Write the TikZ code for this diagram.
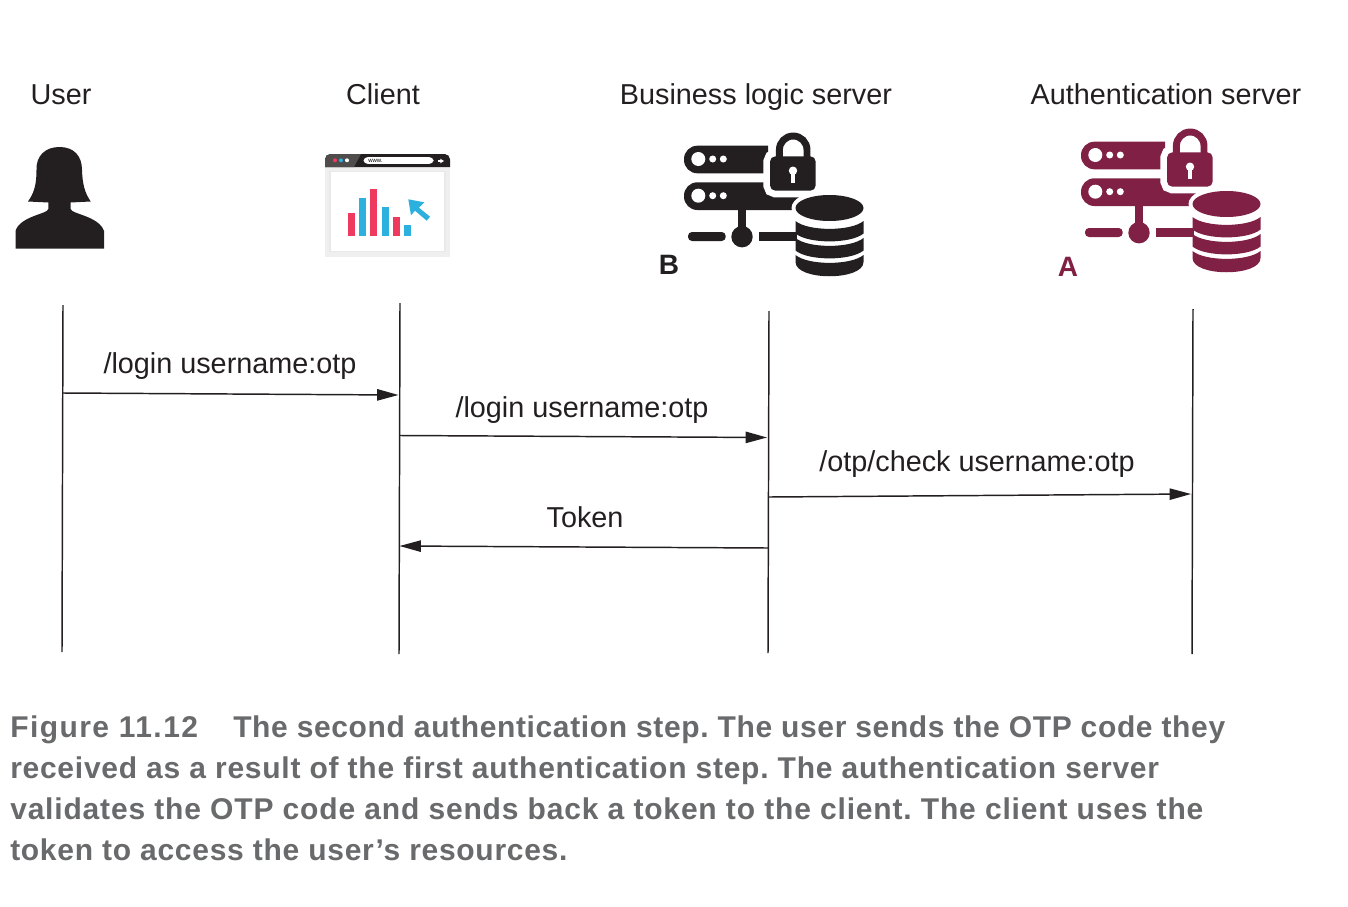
\documentclass[tikz,border=0pt]{standalone}
\usepackage{fontspec}
\setmainfont{Liberation Sans}
\newfontfamily\capfont{Liberation Sans}
\usetikzlibrary{arrows.meta}

\definecolor{authred}{HTML}{7F2044}
\definecolor{iconblack}{HTML}{231F20}
\definecolor{capgrey}{HTML}{696A6C}
\definecolor{barred}{HTML}{EE3A5E}
\definecolor{barblue}{HTML}{2CB0DE}

\tikzset{
  label/.style={font=\fontsize{21.6}{25}\selectfont,text=iconblack,inner sep=0pt,anchor=base},
  caption/.style={font=\capfont\bfseries\addfontfeature{LetterSpace=#1}\fontsize{22.5}{26}\selectfont\frenchspacing,text=capgrey,inner sep=0pt,anchor=base west},
  mark letter/.style={font=\bfseries\fontsize{21}{25}\selectfont,inner sep=0pt},
  lifeline/.style={line width=1.1pt,iconblack},
  message/.style={line width=1.1pt,iconblack,-{Triangle[length=16pt,width=8.5pt]}},
  pics/servericon/.style={code={
    % two racks
    \fill[#1] (84,13.7) [rounded corners=10pt] -- (0,13.7) -- (0,41.3) [sharp corners] -- (84,41.3) -- cycle;
    \fill[#1] (125,50.3) [rounded corners=10pt] -- (0,50.3) -- (0,78) [sharp corners] -- (125,78) -- cycle;
    \foreach \dy in {27,63.7} {
      \fill[white] (14.3,\dy) circle[radius=7];
      \fill[white] (28.7,\dy) circle[radius=3.5];
      \fill[white] (39.3,\dy) circle[radius=3.5];
    }
    % network
    \fill[#1] (54,70) rectangle (62,100);
    \fill[#1] (58,104.7) circle[radius=10.7];
    \fill[#1,rounded corners=3pt] (4,100) rectangle (41.7,109);
    \fill[#1] (75,100) rectangle (113,109);
    % lock
    \draw[white,line width=10pt,rounded corners=4pt] (86,24.3) rectangle (131.7,58.7);
    \fill[white] (86,24.3) rectangle (131.7,58.7);
    \draw[#1,line width=5.2pt] (95.4,28) -- (95.4,17.8) arc[start angle=180,end angle=360,radius=13.8] -- (123,28);
    \fill[#1,rounded corners=4pt] (86,24.3) rectangle (131.7,58.7);
    \fill[white] (109,38.7) circle[radius=4.2];
    \fill[white] (107.2,38.7) rectangle (110.8,51);
    % database
    \fill[white] (145.5,76) ellipse[x radius=38,y radius=18];
    \fill[#1] (145.5,76) ellipse[x radius=34,y radius=13];
    \foreach \dy in {89,106} {
      \fill[#1] (111.5,\dy) .. controls (124,\dy+10.5) and (167,\dy+10.5) .. (179.5,\dy)
        -- (179.5,\dy+12.5) .. controls (167,\dy+23) and (124,\dy+23) .. (111.5,\dy+12.5) -- cycle;
    }
    \fill[#1] (111.5,123) .. controls (124,133.5) and (167,133.5) .. (179.5,123)
      -- (179.5,130) .. controls (179.5,149) and (111.5,149) .. (111.5,130) -- cycle;
  }}
}

\begin{document}
\begin{tikzpicture}[x=0.75pt,y=-0.75pt]
\useasboundingbox (0,0) rectangle (1348,906);

% header
\node(userlabel)[label] at (61,104){User};

\node(clientlabel)[label] at (383,104){Client};

\node(businesslabel)[label] at (756,104){Business logic server};

\node(authlabel)[label] at (1166,104){Authentication server};

% user
\fill[iconblack] (59.5,147) .. controls (45,147) and (36,156) .. (36.5,170)
  .. controls (36.5,185) and (34,193) .. (28,201.5) -- (48.3,202.5) -- (48.3,209)
  .. controls (48,214) and (20,216) .. (15.5,231) -- (15.5,248.5) -- (104,248.5) -- (104,231)
  .. controls (99,216) and (71,214) .. (70.7,209) -- (70.7,202.5) -- (90.7,201.5)
  .. controls (85,193) and (82.5,185) .. (82,170) .. controls (82,156) and (74,147) .. (59.5,147) -- cycle;

% client
\fill[iconblack!7] (325,167) rectangle (450,257);
\fill[white,draw=iconblack!10,line width=1pt] (330,171.7) rectangle (445,251.7);
\fill[iconblack] (325,167) [rounded corners=4pt] -- (325,154) -- (450,154) [sharp corners] -- (450,167) -- cycle;
\fill[iconblack!80] (325,167) [rounded corners=4pt] -- (325,154) [sharp corners] -- (361,154) -- (354,167) -- cycle;
\fill[barred] (335,160.3) circle[radius=2];
\fill[barblue] (341,160.3) circle[radius=2];
\fill[white] (347,160.3) circle[radius=2];
\node(urlbar)[fill=white,rounded corners=3pt,minimum width=52.5pt,minimum height=5pt,inner sep=0pt] at (398.5,160.5){};
\node(urltext)[font=\fontsize{4.5}{5}\selectfont,anchor=west,inner sep=0pt] at (368,160.5){www.};
\draw[white,line width=1pt,-{Stealth[length=3pt,width=3.5pt]}] (438,161) -- (444,161);
\foreach \xa/\ya/\col in {348/213/barred,359/198/barblue,370/189/barred,382/207/barblue,393/217/barred,404/225/barblue} {
  \fill[\col] (\xa,\ya) rectangle (\xa+7,236);
}
\fill[barblue] (408.3,199.3) -- (424.3,202.3) -- (419,207.7) -- (430,216.7) -- (426.7,220.7) -- (415,210.7) -- (411,215.3) -- cycle;

% servers
\pic at (684,132) {servericon=iconblack};

\pic at (1081,128) {servericon=authred};

\node(blogicmark)[mark letter,text=iconblack] at (669,265){B};

\node(authmark)[mark letter,text=authred] at (1068,267){A};

% lifelines
\coordinate(usertop) at (63,305);
\coordinate(userbot) at (62,652);
\coordinate(clienttop) at (400,303);
\coordinate(clientbot) at (399,654);
\coordinate(blogictop) at (769,311);
\coordinate(blogicbot) at (768,653);
\coordinate(authtop) at (1193,309);
\coordinate(authbot) at (1192,654);

\draw[lifeline] (usertop) -- (userbot);
\draw[lifeline] (clienttop) -- (clientbot);
\draw[lifeline] (blogictop) -- (blogicbot);
\draw[lifeline] (authtop) -- (authbot);

% messages
\coordinate(m1a) at (63,393);
\coordinate(m1b) at (398.5,395);
\coordinate(m2a) at (400,435.5);
\coordinate(m2b) at (767,437.5);
\coordinate(m3a) at (769,497);
\coordinate(m3b) at (1191,494);
\coordinate(m4a) at (768,548);
\coordinate(m4b) at (399.5,546);

\draw[message] (m1a) -- (m1b);
\draw[message] (m2a) -- (m2b);
\draw[message] (m3a) -- (m3b);
\draw[message] (m4a) -- (m4b);

\node(m1label)[label] at (230,373){/login username:otp};

\node(m2label)[label] at (582,417){/login username:otp};

\node(m3label)[label] at (977,471){/otp/check username:otp};

\node(m4label)[label] at (585,527){Token};

% caption
\node(figlabel)[caption=4.8] at (10,737.5){Figure 11.12};

\node(capa)[caption=2.1] at (233,737.5){The second authentication step. The user sends the OTP code they};

\node(capb)[caption=2.46] at (10,778.5){received as a result of the first authentication step. The authentication server};

\node(capc)[caption=2.75] at (10,819.5){validates the OTP code and sends back a token to the client. The client uses the};

\node(capd)[caption=2.36] at (10,860.5){token to access the user’s resources.};

\end{tikzpicture}
\end{document}
